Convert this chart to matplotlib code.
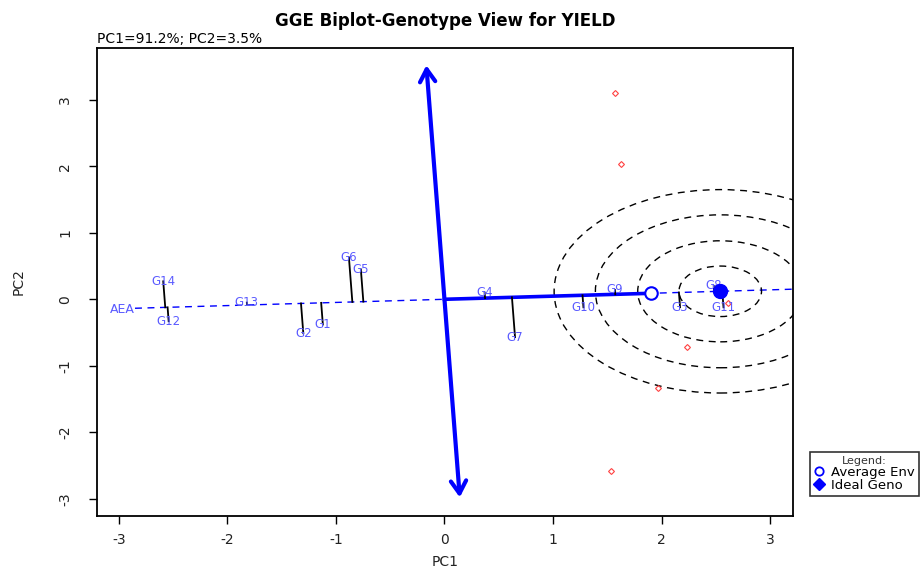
import numpy as np
import matplotlib
matplotlib.use("Agg")
import matplotlib.pyplot as plt
from matplotlib.patches import Circle
from matplotlib.lines import Line2D

plt.rcParams["axes.unicode_minus"] = False

# ---------------- data ----------------
geno_names = ["G1", "G2", "G3", "G4", "G5", "G6", "G7", "G8", "G9", "G10",
              "G11", "G12", "G13", "G14"]
geno_pc1 = [-1.12, -1.30, 2.17, 0.37, -0.77, -0.88, 0.65, 2.48, 1.57, 1.28,
            2.57, -2.54, -1.82, -2.59]
geno_pc2 = [-0.38, -0.51, -0.12, 0.10, 0.45, 0.63, -0.57, 0.20, 0.14, -0.12,
            -0.12, -0.33, -0.05, 0.27]

env_pc1 = [1.57, 1.63, 2.61, 2.23, 1.97, 1.53]
env_pc2 = [3.11, 2.03, -0.05, -0.72, -1.34, -2.59]

avg_env = (1.90, 0.09)
ideal_geno = (2.54, 0.12)
circle_radii = [0.38, 0.76, 1.15, 1.53]
arrow_top_y = 3.52
arrow_bottom_y = -2.98
aea_start_x = -2.85

x_ticks = [-3, -2, -1, 0, 1, 2, 3]
y_ticks = [-3, -2, -1, 0, 1, 2, 3]

title = "GGE Biplot-Genotype View for YIELD"
subtitle = "PC1=91.2%; PC2=3.5%"

# ---------------- figure ----------------
fig = plt.figure(figsize=(9.21, 5.73), dpi=100)
ax = fig.add_axes([97 / 921, 57 / 573, 696 / 921, 468 / 573])
ax.set_xlim(-3.2, 3.21)
ax.set_ylim(-3.26, 3.78)

blue = "#0000ff"
lab_col = "#5a5aff"

slope = avg_env[1] / avg_env[0]

# AEA line (dashed, through origin and the average environment)
xs = np.array([aea_start_x, 3.4])
ax.plot(xs, slope * xs, ls=(0, (5, 4)), color=blue, lw=1.0, zorder=2)
ax.text(-2.97, -0.16, "AEA", color=lab_col, fontsize=9, ha="center",
        va="center", zorder=5)

# solid line from origin to average environment
ax.plot([0, avg_env[0]], [0, avg_env[1]], color=blue, lw=2.6, zorder=3)

# perpendicular double-headed arrow
top = (-slope * arrow_top_y, arrow_top_y)
bot = (-slope * arrow_bottom_y, arrow_bottom_y)
ax.annotate("", xy=top, xytext=bot,
            arrowprops=dict(arrowstyle="<->,head_length=0.9,head_width=0.55",
                            color=blue, lw=3, shrinkA=0, shrinkB=0),
            zorder=3)

# concentric circles around the ideal genotype
for r in circle_radii:
    ax.add_patch(Circle(ideal_geno, r, fill=False, ls=(0, (5, 4)),
                        ec="black", lw=1.0, zorder=2))

# projection lines of genotypes onto AEA
for gx, gy in zip(geno_pc1, geno_pc2):
    t = (gx + slope * gy) / (1 + slope ** 2)
    ax.plot([gx, t], [gy, slope * t], color="black", lw=1.3, zorder=3)

# genotype labels
for name, gx, gy in zip(geno_names, geno_pc1, geno_pc2):
    ax.text(gx, gy, name, color=lab_col, fontsize=8.5, ha="center",
            va="center", zorder=5)

# environment markers
ax.plot(env_pc1, env_pc2, ls="none", marker="D", ms=3, mfc="none",
        mec="#ff4040", mew=0.8, zorder=4)

# average environment and ideal genotype
ax.plot([avg_env[0]], [avg_env[1]], ls="none", marker="o", ms=9, mfc="white",
        mec=blue, mew=1.5, zorder=6)
ax.plot([ideal_geno[0]], [ideal_geno[1]], ls="none", marker="o", ms=10,
        color=blue, zorder=6)

# axes styling
ax.set_xticks(x_ticks)
ax.set_yticks(y_ticks)
ax.set_yticklabels([str(v) for v in y_ticks], rotation=90, va="center")
ax.tick_params(direction="out", length=6, width=1, labelsize=10,
               labelcolor="#222222")
ax.tick_params(axis="x", pad=6)
ax.tick_params(axis="y", pad=12)
for s in ax.spines.values():
    s.set_linewidth(1.3)
ax.set_xlabel("PC1", fontsize=10, labelpad=6, color="#222222")
ax.set_ylabel("PC2", fontsize=10, labelpad=23, color="#222222")

ax.set_title(title, fontsize=12, fontweight="bold", pad=16)
ax.text(0.0, 1.004, subtitle, transform=ax.transAxes, ha="left", va="bottom",
        fontsize=10)

# legend (partly outside the figure, as in the reference)
handles = [Line2D([], [], ls="none", marker="o", ms=6, mfc="white", mec=blue,
                  mew=1.3),
           Line2D([], [], ls="none", marker="D", ms=6, color=blue)]
leg = fig.legend(handles, ["Average Env", "Ideal Geno"], title="Legend:",
                 loc="upper left", bbox_to_anchor=(810 / 921, 1 - 452 / 573),
                 fontsize=9.5, title_fontsize=8, frameon=True, fancybox=False,
                 edgecolor="black", borderpad=0.3, handletextpad=0.5,
                 handlelength=0.8, labelspacing=0.0, borderaxespad=0)
leg.get_frame().set_linewidth(1.2)
leg.get_title().set_color("#333333")

fig.savefig("out.png", dpi=100)
